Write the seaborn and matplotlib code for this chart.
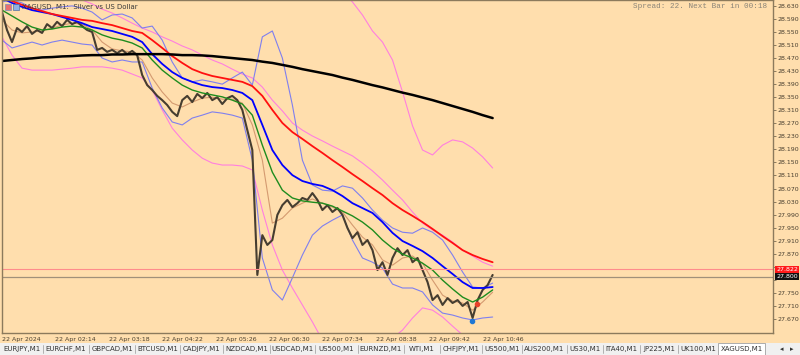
import numpy as np
import pandas as pd
import seaborn as sns
import matplotlib.pyplot as plt
from matplotlib.patches import Rectangle

# XAGUSD M1 close, one value every 6 minutes from 01:10
price = [28.611, 28.556, 28.519, 28.562, 28.550, 28.568, 28.544, 28.556, 28.547, 28.574,
         28.562, 28.581, 28.568, 28.587, 28.574, 28.581, 28.568, 28.556, 28.550, 28.495,
         28.501, 28.489, 28.495, 28.485, 28.495, 28.482, 28.492, 28.479, 28.418, 28.387,
         28.372, 28.354, 28.341, 28.326, 28.305, 28.292, 28.341, 28.354, 28.335, 28.360,
         28.347, 28.363, 28.341, 28.350, 28.329, 28.347, 28.354, 28.341, 28.311, 28.249,
         28.188, 27.805, 27.927, 27.897, 27.912, 27.989, 28.019, 28.035, 28.013, 28.025,
         28.041, 28.035, 28.056, 28.035, 28.004, 28.019, 27.998, 28.010, 27.989, 27.949,
         27.918, 27.936, 27.897, 27.912, 27.881, 27.820, 27.844, 27.805, 27.857, 27.887,
         27.866, 27.881, 27.844, 27.857, 27.820, 27.783, 27.728, 27.743, 27.713, 27.734,
         27.719, 27.728, 27.710, 27.722, 27.673, 27.728, 27.759, 27.774, 27.805]

# indicators, one value every 12 minutes from 01:10
ma_red = [28.657, 28.645, 28.633, 28.623, 28.614, 28.605, 28.599, 28.593, 28.587, 28.584,
          28.577, 28.571, 28.562, 28.553, 28.547, 28.525, 28.501, 28.476, 28.455, 28.436,
          28.424, 28.415, 28.409, 28.403, 28.397, 28.384, 28.354, 28.311, 28.271, 28.243,
          28.222, 28.200, 28.179, 28.157, 28.136, 28.114, 28.093, 28.071, 28.050, 28.025,
          28.004, 27.986, 27.967, 27.946, 27.924, 27.903, 27.881, 27.866, 27.854, 27.844]
ma_blue = [28.654, 28.639, 28.627, 28.617, 28.611, 28.605, 28.596, 28.587, 28.577, 28.565,
           28.559, 28.553, 28.544, 28.535, 28.519, 28.482, 28.452, 28.427, 28.409, 28.397,
           28.387, 28.381, 28.378, 28.372, 28.363, 28.341, 28.265, 28.188, 28.142, 28.111,
           28.093, 28.084, 28.078, 28.065, 28.047, 28.025, 28.010, 27.995, 27.967, 27.934,
           27.909, 27.894, 27.878, 27.857, 27.832, 27.808, 27.783, 27.765, 27.765, 27.768]
ma_green = [28.617, 28.599, 28.581, 28.565, 28.556, 28.559, 28.565, 28.568, 28.565, 28.556,
            28.541, 28.531, 28.525, 28.516, 28.501, 28.464, 28.433, 28.409, 28.387, 28.372,
            28.363, 28.357, 28.351, 28.341, 28.329, 28.295, 28.203, 28.120, 28.065, 28.041,
            28.032, 28.028, 28.025, 28.016, 28.001, 27.986, 27.967, 27.943, 27.912, 27.887,
            27.869, 27.857, 27.841, 27.820, 27.789, 27.762, 27.737, 27.722, 27.737, 27.759]
ma_tan = [28.587, 28.556, 28.547, 28.550, 28.553, 28.562, 28.571, 28.577, 28.574, 28.556,
          28.519, 28.498, 28.492, 28.489, 28.464, 28.409, 28.366, 28.332, 28.320, 28.335,
          28.347, 28.350, 28.344, 28.344, 28.332, 28.265, 28.157, 27.964, 27.979, 28.010,
          28.025, 28.038, 28.025, 28.013, 27.998, 27.958, 27.921, 27.897, 27.851, 27.835,
          27.857, 27.863, 27.841, 27.789, 27.743, 27.725, 27.719, 27.697, 27.722, 27.752]
ma_black = [28.461, 28.464, 28.467, 28.469, 28.472, 28.473, 28.475, 28.476, 28.478, 28.479,
            28.479, 28.481, 28.481, 28.482, 28.482, 28.482, 28.482, 28.481, 28.479, 28.479,
            28.478, 28.476, 28.473, 28.470, 28.467, 28.464, 28.459, 28.455, 28.449, 28.443,
            28.436, 28.430, 28.424, 28.418, 28.410, 28.403, 28.395, 28.387, 28.380, 28.372,
            28.364, 28.357, 28.349, 28.341, 28.332, 28.323, 28.314, 28.305, 28.295, 28.286]
bb_up = [28.642, 28.648, 28.639, 28.623, 28.617, 28.623, 28.627, 28.630, 28.623, 28.611,
         28.587, 28.602, 28.605, 28.593, 28.562, 28.568, 28.525, 28.458, 28.409, 28.397,
         28.403, 28.397, 28.390, 28.409, 28.427, 28.387, 28.535, 28.553, 28.470, 28.326,
         28.157, 28.081, 28.065, 28.062, 28.078, 28.071, 28.041, 28.004, 27.973, 27.949,
         27.936, 27.933, 27.949, 27.936, 27.912, 27.866, 27.814, 27.768, 27.765, 27.780]
bb_low = [28.525, 28.501, 28.510, 28.519, 28.510, 28.519, 28.525, 28.519, 28.513, 28.510,
          28.470, 28.458, 28.464, 28.458, 28.458, 28.378, 28.317, 28.274, 28.265, 28.286,
          28.295, 28.305, 28.301, 28.295, 28.286, 28.157, 27.857, 27.759, 27.728, 27.796,
          27.866, 27.927, 27.955, 27.973, 27.989, 27.912, 27.857, 27.844, 27.826, 27.777,
          27.765, 27.765, 27.753, 27.713, 27.688, 27.682, 27.673, 27.667, 27.673, 27.676]
env_up = [28.758, 28.746, 28.731, 28.719, 28.703, 28.691, 28.676, 28.663, 28.648, 28.636,
          28.620, 28.608, 28.593, 28.577, 28.562, 28.550, 28.535, 28.522, 28.507, 28.495,
          28.479, 28.464, 28.452, 28.436, 28.421, 28.409, 28.381, 28.341, 28.308, 28.271,
          28.249, 28.231, 28.216, 28.200, 28.185, 28.170, 28.148, 28.124, 28.096, 28.065,
          28.035, 27.998, 27.964, 27.943, 27.927, 27.906, 27.881, 27.863, 27.844, 27.832]
wide_up = [np.nan] * 34 + [28.673, 28.642, 28.602, 28.553, 28.519, 28.464, 28.366, 28.262,
                           28.188, 28.173, 28.203, 28.219, 28.213, 28.194, 28.167, 28.133]
wide_low = [28.535, 28.479, 28.439, 28.433, 28.433, 28.433, 28.436, 28.439, 28.443, 28.443,
            28.443, 28.439, 28.433, 28.421, 28.409, 28.372, 28.311, 28.255, 28.219, 28.188,
            28.163, 28.148, 28.142, 28.142, 28.139, 28.127, 28.004, 27.897, 27.820, 27.765,
            27.713, 27.661, 27.605, 27.590, 27.575, 27.569, 27.569, 27.575, 27.590, 27.611,
            27.636, 27.673, 27.704, 27.697, 27.676, 27.648, 27.621, 27.599, 27.581, 27.569]

ask, bid = 27.822, 27.800
tick_labels = ["22 Apr 2024", "22 Apr 02:14", "22 Apr 03:18", "22 Apr 04:22", "22 Apr 05:26",
               "22 Apr 06:30", "22 Apr 07:34", "22 Apr 08:38", "22 Apr 09:42", "22 Apr 10:46"]
tabs = ["EURJPY,M1", "EURCHF,M1", "GBPCAD,M1", "BTCUSD,M1", "CADJPY,M1", "NZDCAD,M1",
        "USDCAD,M1", "US500,M1", "EURNZD,M1", "WTI,M1", "CHFJPY,M1", "US500,M1",
        "AUS200,M1", "US30,M1", "ITA40,M1", "JP225,M1", "UK100,M1", "XAGUSD,M1"]

start = pd.Timestamp("2024-04-22 01:10")
t_price = pd.date_range(start, periods=len(price), freq="6min")
t_ind = pd.date_range(start, periods=len(ma_red), freq="12min")

sns.set_style("white")
plt.rcParams["font.family"] = ["DejaVu Sans"]

BG = "#FFDEAD"
EDGE = "#8c7a5c"
fig = plt.figure(figsize=(8, 3.55), dpi=100, facecolor=BG)
ax = fig.add_axes([2 / 800, 1 - 333 / 355, 771 / 800, 333 / 355], facecolor=BG)

# thin bands first, then moving averages, price on top
sns.lineplot(x=t_ind, y=wide_low, ax=ax, color="#ff7fdf", lw=0.8)
sns.lineplot(x=t_ind, y=wide_up, ax=ax, color="#ff7fdf", lw=0.8)
sns.lineplot(x=t_ind, y=env_up, ax=ax, color="#ff7fdf", lw=0.8)
sns.lineplot(x=t_ind, y=bb_up, ax=ax, color="#7f7fef", lw=0.8)
sns.lineplot(x=t_ind, y=bb_low, ax=ax, color="#7f7fef", lw=0.8)
sns.lineplot(x=t_ind, y=ma_tan, ax=ax, color="#d49a70", lw=0.8)
sns.lineplot(x=t_price, y=price, ax=ax, color="#463d30", lw=1.5)
sns.lineplot(x=t_ind, y=ma_green, ax=ax, color="#1e8c1e", lw=1.0)
sns.lineplot(x=t_ind, y=ma_blue, ax=ax, color="#0000ff", lw=1.3)
sns.lineplot(x=t_ind, y=ma_red, ax=ax, color="#ff1010", lw=1.3)
sns.lineplot(x=t_ind, y=ma_black, ax=ax, color="#000000", lw=1.8)

# signal dots
ax.plot(start + pd.Timedelta(minutes=563), 27.664, "o", color="#1f77d4", ms=3)
ax.plot(start + pd.Timedelta(minutes=569), 27.716, "o", color="#e8402a", ms=3)

ax.axhline(ask, color="#ff8c8c", lw=0.8)
ax.axhline(bid, color="#a0907a", lw=0.9)

ax.set_ylim(27.627, 28.648)
ax.set_xlim(start, start + pd.Timedelta(minutes=924))

yt = np.round(np.arange(27.670, 28.6301, 0.04), 3)
ax.yaxis.tick_right()
ax.set_yticks(yt)
# the two price boxes sit on top of these tick labels
ax.set_yticklabels(["" if abs(v - ask) < 0.015 or abs(v - bid) < 0.015 else f"{v:.3f}"
                    for v in yt])
xt = [start + pd.Timedelta(minutes=64 * i) for i in range(len(tick_labels))]
ax.set_xticks(xt)
ax.set_xticklabels(tick_labels, ha="left")
ax.tick_params(axis="both", direction="out", length=2.5, width=0.7, color=EDGE,
               labelsize=4.5, labelcolor="#4a4030", pad=0.7)
ax.set_xlabel("")
ax.set_ylabel("")
for s in ax.spines.values():
    s.set_color(EDGE)
    s.set_linewidth(1.0)

tr = ax.get_yaxis_transform()
ax.text(1.004, ask, f"{ask:.3f}", transform=tr, fontsize=4.5, color="white", va="center",
        ha="left", clip_on=False, zorder=10,
        bbox=dict(boxstyle="square,pad=0.2", fc="#ff1a1a", ec="none"))
ax.text(1.004, bid, f"{bid:.3f}", transform=tr, fontsize=4.5, color="white", va="center",
        ha="left", clip_on=False, zorder=10,
        bbox=dict(boxstyle="square,pad=0.2", fc="#111111", ec="none"))

# header texts
fig.patches.append(Rectangle((5 / 800, 1 - 10 / 355), 6 / 800, 6 / 355,
                             transform=fig.transFigure, fc="#e87070", ec="#7090c0", lw=0.5))
fig.patches.append(Rectangle((13 / 800, 1 - 10 / 355), 6 / 800, 6 / 355,
                             transform=fig.transFigure, fc="#90b0e0", ec="#5070a0", lw=0.5))
fig.text(22 / 800, 1 - 7 / 355, "XAGUSD, M1:  Silver vs US Dollar", fontsize=5,
         color="#3a3a3a", va="center", ha="left")
fig.text(767 / 800, 1 - 6 / 355, "Spread: 22. Next Bar in 00:18", fontsize=5.5,
         family=["Liberation Mono", "DejaVu Sans Mono"], color="#8a8478",
         va="center", ha="right")

# symbol tab strip
fig.patches.append(Rectangle((0, 0), 1, 12 / 355, transform=fig.transFigure,
                             fc="#f0f0f0", ec="none", zorder=0))
edges = [0, 43, 89, 135, 180, 223, 270, 315, 358, 404, 440, 482, 522, 567, 603, 640, 678,
         718, 765]
fig.patches.append(Rectangle((718 / 800, 0), 47 / 800, 12 / 355, transform=fig.transFigure,
                             fc="white", ec="#a0a0a0", lw=0.6, zorder=1))
for i, name in enumerate(tabs):
    x0, x1 = edges[i], edges[i + 1]
    if 0 < i < len(tabs) - 1:
        fig.add_artist(plt.Line2D([x0 / 800, x0 / 800], [2 / 355, 10 / 355], color="#a8a8a8",
                                  lw=0.6))
    fig.text((x0 + x1) / 2 / 800, 6 / 355, name, fontsize=5, color="#333333",
             ha="center", va="center")
fig.text(782 / 800, 6 / 355, "\u25c2", fontsize=5, color="#333333", ha="center", va="center")
fig.text(792 / 800, 6 / 355, "\u25b8", fontsize=5, color="#333333", ha="center", va="center")

fig.savefig("out.png", dpi=100, facecolor=BG)
